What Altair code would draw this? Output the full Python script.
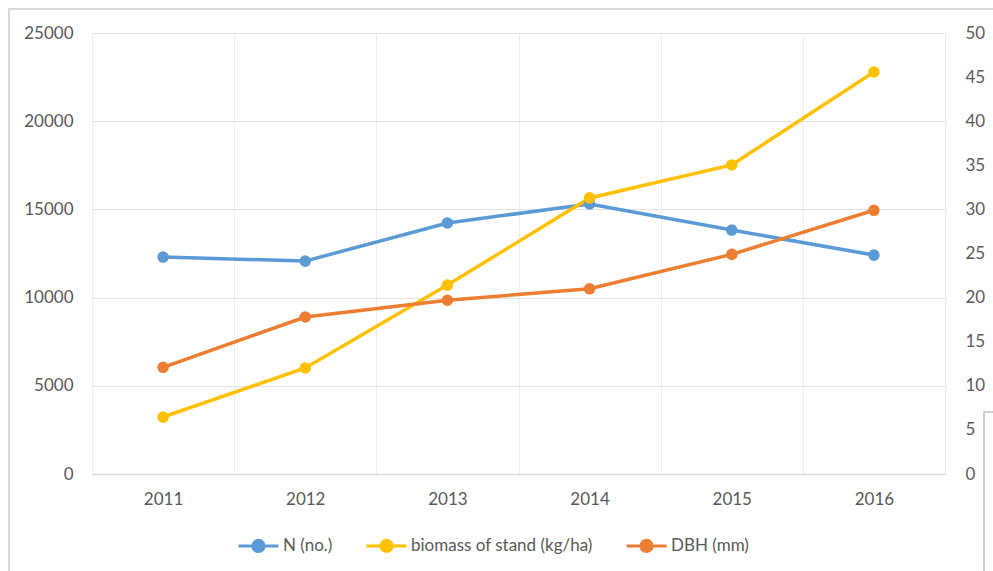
import altair as alt
import pandas as pd

years = ["2011", "2012", "2013", "2014", "2015", "2016"]
n_no = [12300, 12070, 14230, 15310, 13830, 12410]
biomass = [3230, 6010, 10710, 15650, 17520, 22790]
dbh = [12.1, 17.8, 19.7, 21.0, 24.9, 29.9]

series_names = ["N (no.)", "biomass of stand (kg/ha)", "DBH (mm)"]
colors = ["#5B9BD5", "#FFC000", "#ED7D31"]
left_ticks = [0, 5000, 10000, 15000, 20000, 25000]
right_ticks = [0, 5, 10, 15, 20, 25, 30, 35, 40, 45, 50]

rows = []
for i, yr in enumerate(years):
    rows.append({"year": yr, "series": series_names[0], "value": n_no[i]})
    rows.append({"year": yr, "series": series_names[1], "value": biomass[i]})
    rows.append({"year": yr, "series": series_names[2], "value": dbh[i]})
df = pd.DataFrame(rows)

FONT = "Lato"
LABEL = "#595959"
FS = 17

LEG_PATH = "M-1,0H1M0.28,0A0.28,0.28,0,1,1,-0.28,0A0.28,0.28,0,1,1,0.28,0Z"

color = alt.Color(
    "series:N",
    scale=alt.Scale(domain=series_names, range=colors),
    legend=alt.Legend(
        title=None, orient="none", legendX=145, legendY=491,
        direction="horizontal", symbolType=LEG_PATH, symbolSize=1600,
        symbolStrokeWidth=3, labelFont=FONT, labelFontSize=FS,
        labelColor=LABEL, columnPadding=27, labelOffset=3, labelLimit=0,
    ),
)

x = alt.X(
    "year:O",
    scale=alt.Scale(type="band", paddingInner=0, paddingOuter=0),
    axis=alt.Axis(
        title=None, tickBand="extent", grid=True, gridColor="#ececec",
        ticks=False, domainColor="#d9d9d9", domainWidth=1.5, labelAngle=0,
        labelPadding=17, labelFont=FONT, labelFontSize=FS, labelColor=LABEL,
    ),
)

yL = alt.Y(
    "value:Q",
    scale=alt.Scale(domain=[0, 25000]),
    axis=alt.Axis(
        title=None, values=left_ticks, format="d", grid=True,
        gridColor="#e2e2e2", domain=False, ticks=False, labelPadding=19,
        labelFont=FONT, labelFontSize=FS, labelColor=LABEL,
    ),
)
yR = alt.Y(
    "value:Q",
    scale=alt.Scale(domain=[0, 50]),
    axis=alt.Axis(
        title=None, orient="right", values=right_ticks, format="d",
        grid=False, domain=False, ticks=False, labelPadding=20,
        labelFont=FONT, labelFontSize=FS, labelColor=LABEL,
    ),
)

base = alt.Chart(df)
left_base = base.transform_filter(
    alt.FieldOneOfPredicate(field="series", oneOf=series_names[:2])
)
right_base = base.transform_filter(alt.datum.series == series_names[2])

left = alt.layer(
    left_base.mark_line(strokeWidth=3.5).encode(x=x, y=yL, color=color),
    left_base.mark_circle(size=135, opacity=1).encode(x=x, y=yL, color=color),
)
right = alt.layer(
    right_base.mark_line(strokeWidth=3.5).encode(x=x, y=yR, color=color),
    right_base.mark_circle(size=135, opacity=1).encode(x=x, y=yR, color=color),
)

frame_df = pd.DataFrame({"k": [0]})
frame = alt.Chart(frame_df).mark_rect(
    fillOpacity=0, stroke="#d9d9d9", strokeWidth=2
).encode(
    x=alt.value(-83), x2=alt.value(1000), y=alt.value(-24), y2=alt.value(600)
)
box = alt.Chart(frame_df).mark_rect(
    fillOpacity=0, stroke="#bfbfbf", strokeWidth=1.5
).encode(
    x=alt.value(892), x2=alt.value(960), y=alt.value(379), y2=alt.value(600)
)

chart = alt.layer(frame, box, left, right).resolve_scale(y="independent").properties(
    width=853, height=441,
    autosize=alt.AutoSizeParams(type="none"),
    padding={"left": 92, "top": 33, "right": 48, "bottom": 97},
).configure_view(stroke=None).configure(background="white")

chart.save("out.html", embed_options={"renderer": "svg", "actions": False})
